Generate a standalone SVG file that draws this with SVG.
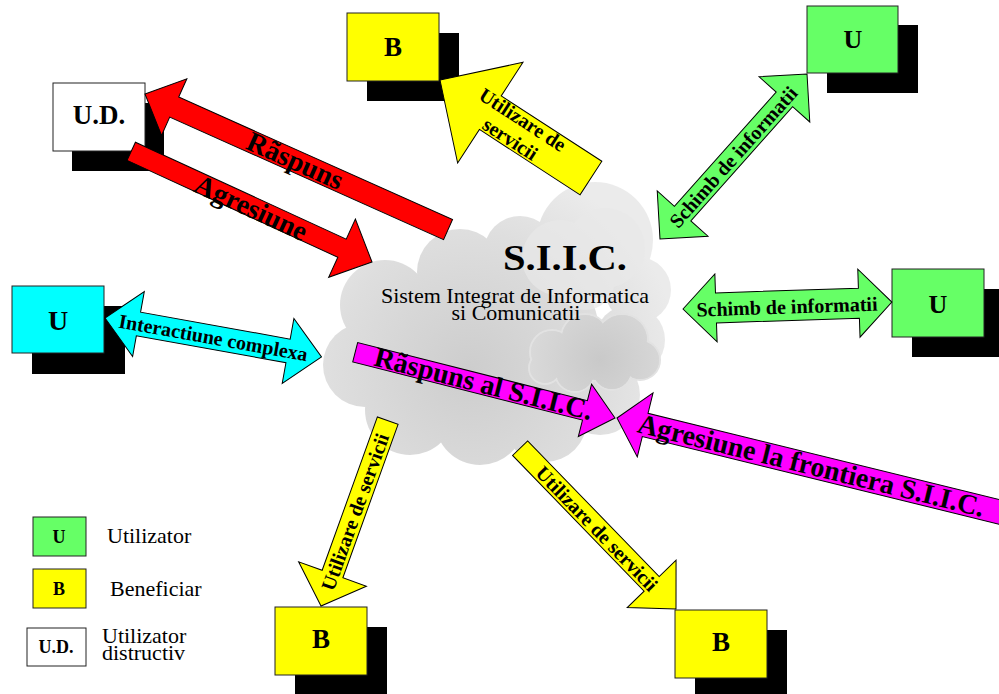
<svg xmlns="http://www.w3.org/2000/svg" width="999" height="694" viewBox="0 0 999 694">
<defs>
<radialGradient id="cg" gradientUnits="userSpaceOnUse" cx="470" cy="370" r="210">
<stop offset="0" stop-color="#cdcdcd"/>
<stop offset="0.65" stop-color="#dedede"/>
<stop offset="1" stop-color="#ebebeb"/>
</radialGradient>
<radialGradient id="sg" gradientUnits="userSpaceOnUse" cx="600" cy="360" r="70">
<stop offset="0" stop-color="#c9c9c9"/>
<stop offset="1" stop-color="#d9d9d9"/>
</radialGradient>
</defs>
<style>
.box{stroke:#222;stroke-width:1}
.sh{fill:#000}
.arr{stroke:#000;stroke-width:1}
.nl{font-family:"Liberation Serif","Times New Roman",serif;font-weight:bold;text-anchor:middle;fill:#000}
.al{font-family:"Liberation Serif","Times New Roman",serif;font-weight:bold;text-anchor:middle;fill:#000}
.lg{font-family:"Liberation Serif","Times New Roman",serif;font-size:22px;fill:#000}
</style>
<rect width="999" height="694" fill="#fff"/>

<g id="cloud">
<g fill="url(#cg)">
<circle cx="595" cy="240" r="58"/>
<circle cx="638" cy="290" r="33"/>
<circle cx="630" cy="340" r="35"/>
<circle cx="600" cy="395" r="40"/>
<circle cx="545" cy="420" r="42"/>
<circle cx="480" cy="420" r="45"/>
<circle cx="410" cy="410" r="45"/>
<circle cx="365" cy="365" r="42"/>
<circle cx="385" cy="305" r="45"/>
<circle cx="460" cy="272" r="43"/>
<circle cx="520" cy="252" r="36"/>
<circle cx="500" cy="340" r="100"/>
</g>
<g fill="#e9e9e9" opacity="0.7">
<circle cx="560" cy="258" r="38"/>
<circle cx="605" cy="248" r="40"/>
<circle cx="585" cy="280" r="30"/>
</g>
<g fill="url(#sg)" stroke="#e2e2e2" stroke-width="2">
<circle cx="552" cy="352" r="22"/>
<circle cx="585" cy="338" r="24"/>
<circle cx="622" cy="340" r="26"/>
<circle cx="640" cy="360" r="20"/>
<circle cx="612" cy="370" r="20"/>
<circle cx="575" cy="372" r="20"/>
<circle cx="545" cy="368" r="16"/>
</g>
<g fill="url(#sg)">
<circle cx="552" cy="352" r="21"/>
<circle cx="585" cy="338" r="23"/>
<circle cx="622" cy="340" r="25"/>
<circle cx="640" cy="360" r="19"/>
<circle cx="612" cy="370" r="19"/>
<circle cx="575" cy="372" r="19"/>
<circle cx="545" cy="368" r="15"/>
<circle cx="595" cy="355" r="25"/>
</g>
<text x="565" y="270" font-family="'Liberation Serif','Times New Roman',serif" font-weight="bold" font-size="36" text-anchor="middle" textLength="124" lengthAdjust="spacingAndGlyphs">S.I.I.C.</text>
<text x="515" y="303" font-family="'Liberation Serif','Times New Roman',serif" font-size="22" text-anchor="middle">Sistem Integrat de Informatica</text>
<text x="516" y="320" font-family="'Liberation Serif','Times New Roman',serif" font-size="22" text-anchor="middle">si Comunicatii</text>
</g>

<g id="node-B-top">
<rect class="sh" x="367" y="33" width="92" height="68"/>
<rect class="box" x="347" y="13" width="92" height="68" fill="#ffff00"/>
<text class="nl" x="393" y="56" font-size="27">B</text>
</g>
<g id="node-U-top">
<rect class="sh" x="827" y="25" width="91" height="68"/>
<rect class="box" x="807" y="6" width="91" height="67" fill="#66ff66"/>
<text class="nl" x="853" y="48" font-size="26">U</text>
</g>
<g id="node-UD">
<rect class="sh" x="72" y="103" width="92" height="68"/>
<rect class="box" x="53" y="83" width="92" height="68" fill="#ffffff"/>
<text class="nl" x="99" y="124" font-size="27">U.D.</text>
</g>
<g id="node-U-cyan">
<rect class="sh" x="32" y="306" width="93" height="68"/>
<rect class="box" x="12" y="286" width="92" height="67" fill="#00ffff"/>
<text class="nl" x="58" y="330" font-size="28">U</text>
</g>
<g id="node-U-right">
<rect class="sh" x="912" y="289" width="92" height="68"/>
<rect class="box" x="892" y="269" width="92" height="68" fill="#66ff66"/>
<text class="nl" x="938" y="313" font-size="26">U</text>
</g>
<g id="node-B-bl">
<rect class="sh" x="295" y="627" width="92" height="68"/>
<rect class="box" x="275" y="607" width="92" height="68" fill="#ffff00"/>
<text class="nl" x="321" y="648" font-size="27">B</text>
</g>
<g id="node-B-br">
<rect class="sh" x="695" y="630" width="92" height="68"/>
<rect class="box" x="675" y="610" width="92" height="68" fill="#ffff00"/>
<text class="nl" x="721" y="651" font-size="27">B</text>
</g>

<g id="connectors">
<g id="arr-raspuns">
<path class="arr" fill="#ff0000" transform="translate(145,94) rotate(24.1)" d="M0,0 L32,-31 L32,-11 L332,-11 L332,11 L32,11 L32,31 Z"/>
<text class="al" font-size="28" transform="translate(295,161) rotate(24.1)" y="9">Rãspuns</text>
</g>
<g id="arr-agresiune">
<path class="arr" fill="#ff0000" transform="translate(372,262) rotate(204.7)" d="M0,0 L33,-32 L33,-10 L265,-10 L265,10 L33,10 L33,32 Z"/>
<text class="al" font-size="28" transform="translate(251,208) rotate(24.7)" y="9">Agresiune</text>
</g>
<g id="arr-util-top">
<path class="arr" fill="#ffff00" transform="translate(440,80) rotate(33)" d="M0,0 L60,-60 L60,-20 L180,-20 L180,20 L60,20 L60,60 Z"/>
<g transform="translate(440,80) rotate(33)">
<text class="al" font-size="20" x="91" y="-5">Utilizare de</text>
<text class="al" font-size="20" x="91" y="18">servicii</text>
</g>
</g>
<g id="arr-schimb-diag">
<path class="arr" fill="#66ff66" transform="translate(660,239) rotate(-48.3)" d="M0,0 L34,-34 L34,-11 L187,-11 L187,-34 L221,0 L187,34 L187,11 L34,11 L34,34 Z"/>
<text class="al" font-size="20" transform="translate(660,239) rotate(-48.3)" x="110" y="7">Schimb de informatii</text>
</g>
<g id="arr-schimb-h">
<path class="arr" fill="#66ff66" transform="translate(683,309) rotate(-1.9)" d="M0,0 L33,-34 L33,-15 L176,-15 L176,-34 L209,0 L176,34 L176,15 L33,15 L33,34 Z"/>
<text class="al" font-size="20" transform="translate(683,309) rotate(-1.9)" x="104" y="8">Schimb de informatii</text>
</g>
<g id="arr-interactiune">
<path class="arr" fill="#00ffff" transform="translate(105,318) rotate(10.2)" d="M0,0 L34,-33 L34,-12 L186,-12 L186,-33 L220,0 L186,33 L186,12 L34,12 L34,33 Z"/>
<text class="al" font-size="20" transform="translate(105,318) rotate(10.2)" x="110" y="7">Interactiune complexa</text>
</g>
<g id="arr-raspuns-siic">
<path class="arr" fill="#ff00ff" transform="translate(615,418) rotate(194.2)" d="M0,0 L31,-27 L31,-10 L268,-10 L268,10 L31,10 L31,27 Z"/>
<text class="al" font-size="28" transform="translate(483.5,384) rotate(14.2)" y="9">Rãspuns al S.I.I.C.</text>
</g>
<g id="arr-agresiune-frontiera">
<path class="arr" fill="#ff00ff" transform="translate(617,418) rotate(13.8)" d="M0,0 L29,-33 L29,-12 L420,-12 L420,12 L29,12 L29,33 Z"/>
<text class="al" font-size="28" transform="translate(617,418) rotate(13.8)" x="200" y="9">Agresiune la frontiera S.I.I.C.</text>
</g>
<g id="arr-util-bl">
<path class="arr" fill="#ffff00" transform="translate(321,606) rotate(-70.2)" d="M0,0 L34,-36 L34,-11 L197,-11 L197,11 L34,11 L34,36 Z"/>
<text class="al" font-size="20" transform="translate(321,606) rotate(-70.2)" x="100" y="7">Utilizare de servicii</text>
</g>
<g id="arr-util-br">
<path class="arr" fill="#ffff00" transform="translate(676,609) rotate(-134.1)" d="M0,0 L35,-34 L35,-10.5 L224,-10.5 L224,10.5 L35,10.5 L35,34 Z"/>
<text class="al" font-size="20" transform="translate(597,528.5) rotate(45.9)" y="7">Utilizare de servicii</text>
</g>
</g>

<g id="legend">
<g id="legend-U">
<rect class="box" x="33" y="517" width="53" height="39" fill="#66ff66"/>
<text class="nl" x="59" y="543" font-size="18">U</text>
<text class="lg" x="107" y="543">Utilizator</text>
</g>
<g id="legend-B">
<rect class="box" x="33" y="569" width="53" height="39" fill="#ffff00"/>
<text class="nl" x="59" y="595" font-size="18">B</text>
<text class="lg" x="110" y="596">Beneficiar</text>
</g>
<g id="legend-UD">
<rect class="box" x="27" y="628" width="59" height="38" fill="#ffffff"/>
<text class="nl" x="56" y="653" font-size="18">U.D.</text>
<text class="lg" x="102" y="643">Utilizator</text>
<text class="lg" x="102" y="660">distructiv</text>
</g>
</g>
</svg>
